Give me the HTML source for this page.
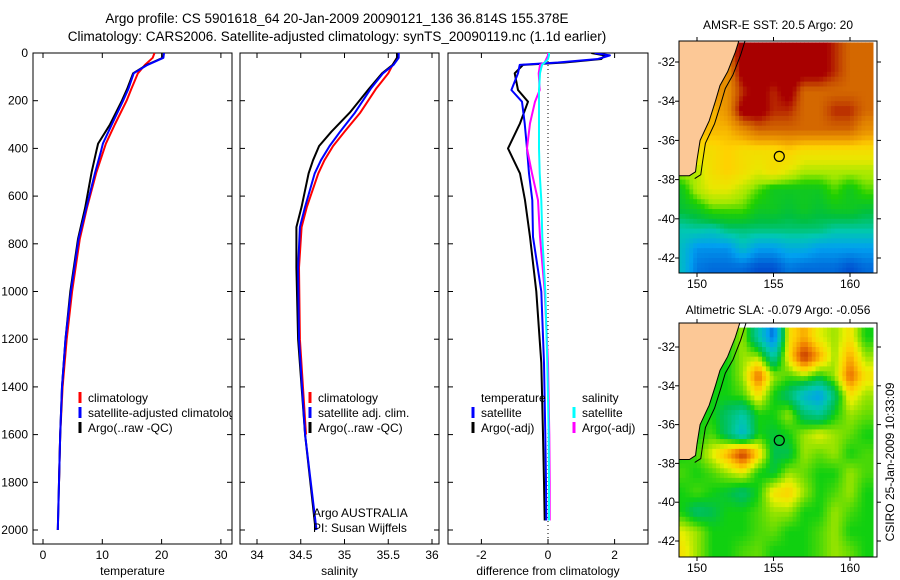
<!DOCTYPE html>
<html><head><meta charset="utf-8"><style>
html,body{margin:0;padding:0;background:#fff;}
svg{display:block;font-family:"Liberation Sans",sans-serif;}
</style></head><body>
<svg id="fig" width="900" height="580" viewBox="0 0 900 580" xmlns="http://www.w3.org/2000/svg">
<text x="337" y="23" font-size="13.5" text-anchor="middle">Argo profile: CS 5901618_64 20-Jan-2009 20090121_136 36.814S 155.378E</text>
<text x="337" y="41" font-size="13.5" text-anchor="middle">Climatology: CARS2006. Satellite-adjusted climatology: synTS_20090119.nc (1.1d earlier)</text>
<text x="778" y="29" font-size="12" text-anchor="middle">AMSR-E SST: 20.5 Argo: 20</text>
<text x="778" y="314" font-size="12" text-anchor="middle">Altimetric SLA: -0.079 Argo: -0.056</text>
<text transform="translate(894,462) rotate(-90)" font-size="12" text-anchor="middle">CSIRO 25-Jan-2009 10:33:09</text>
<g id="g"></g>
</svg>
<script>
// ---- depth / profile data ----
const tempDepth = [0,20,50,85,150,200,300,380,410,500,650,780,1000,1200,1400,1600,1800,2000];
const tempArgo  = [20.3,20.2,17.5,15.2,14.2,13.3,11.3,9.3,9.0,8.2,7.1,5.9,4.6,3.8,3.2,2.9,2.7,2.5];
const tempSat   = [20.4,20.3,17.6,15.3,14.4,13.5,11.6,10.1,9.8,8.8,7.3,6.0,4.7,3.8,3.2,2.9,2.7,2.5];
const tempClim  = [18.8,18.5,17.2,16.0,14.9,14.1,12.1,10.6,10.2,9.0,7.4,6.2,4.9,4.0,3.3,2.9,2.7];
const salDepth  = [0,20,50,85,150,250,330,390,450,505,645,730,900,1200,1600,2000];
const salArgo   = [35.6,35.6,35.55,35.43,35.28,35.06,34.85,34.71,34.64,34.59,34.51,34.45,34.45,34.47,34.55,34.67];
const salSat    = [35.62,35.62,35.56,35.44,35.3,35.12,34.95,34.83,34.73,34.66,34.55,34.49,34.47,34.48,34.55,34.68];
const salClim   = [35.6,35.6,35.55,35.5,35.36,35.18,35.0,34.87,34.77,34.70,34.57,34.51,34.48,34.49,34.56];
const diffDepth = [0,10,25,40,50,85,155,204,295,400,505,617,771,1000,1300,1600,1800,1960];
const tempArgoDiff = [1.3,1.7,1.6,0.5,-0.75,-1.0,-0.9,-0.6,-0.84,-1.2,-0.84,-0.69,-0.54,-0.35,-0.2,-0.15,-0.12,-0.1];
const tempSatDiff  = [1.4,1.86,1.5,0.3,-0.85,-0.9,-1.1,-0.78,-0.7,-0.63,-0.57,-0.47,-0.45,-0.2,-0.12,-0.08,-0.06,-0.05];
const salSatDiff   = [0.03,0.03,0.0,-0.1,-0.18,-0.24,-0.27,-0.27,-0.27,-0.27,-0.25,-0.2,-0.17,-0.08,-0.02,0.02,0.03,0.03];
const salArgoDiff  = [0.0,0.0,-0.05,-0.1,-0.24,-0.28,-0.25,-0.39,-0.54,-0.63,-0.48,-0.3,-0.24,-0.1,0.0,0.04,0.05,0.05];
const depthTicks = [0,200,400,600,800,1000,1200,1400,1600,1800,2000];
const tempTicks = [0,10,20,30];
const salTicks = [34,34.5,35,35.5,36];
const diffTicks = [-2,0,2];
// ---- map data ----
const mapLons = [149,150,151,152,153,154,155,156,157,158,159,160,161];
const mapLats = [-31,-32,-33,-34,-35,-36,-37,-38,-39,-40,-41,-42];
const sstGrid = [
[24,24,24,24,26,26,26,26,26,26,25,24,24],
[24,24,24,23,26,26,26,26,26,26,25,24,24],
[23,23,23,23,25,26,25,26,24,24,24,24,24],
[23,23,22,23,26,26,25,25,24,24,25,25,24],
[22,22,22,22,23,24,24,24,24,24,24,24,23],
[21,21,21,21.5,21,21,21,21.5,21,21,21,21,21],
[20,20,21,21.5,21,20.5,21,20.5,20,20,20,20,20],
[19,20,20.5,20.5,20,19.5,19,19,19,19,19.5,19,19.5],
[18.8,19,19.5,19.5,19.5,19,19,18.8,19,18.8,19,19,18.8],
[18.2,18.3,18.2,18.5,18.5,18.5,18.5,18.5,18.5,18.5,18.3,18.3,18.3],
[18,17.5,17.5,17.5,18,17.6,17.6,17.8,17.8,17.6,17.6,17.6,17.6],
[18,17.3,17.2,17.2,17.2,17,17,17.3,17.2,17.2,17.2,17,17.2]];
const slaGrid = [
[0,0,0,0,0.05,-0.1,-0.25,0.1,0.15,0.08,0.05,0.1,0.0],
[0,0,0,0,0.05,0.05,-0.1,0.1,0.25,0.15,0.05,0.15,0.05],
[0,0,0,0,0.05,0.2,0.05,0.02,0.05,0.0,0.05,0.2,0.1],
[0,0,0,0,0.02,0.1,0.0,-0.05,-0.15,-0.2,-0.05,0.1,0.05],
[0,0,0,-0.05,-0.1,0.0,0.0,0.05,-0.05,-0.08,0.0,0.05,0.03],
[0,0,0.02,-0.05,-0.15,0.0,-0.02,0.0,0.05,0.08,0.05,0.03,0.0],
[0,0.02,0.08,0.15,0.25,0.12,-0.03,-0.03,0.05,0.03,0.05,0.0,0.02],
[0.02,0.0,0.02,0.05,0.08,0.0,-0.02,0.05,0.03,0.0,0.0,0.05,0.02],
[0,0.02,0.0,-0.02,-0.05,0.0,0.1,0.12,0.05,0.0,0.02,0.05,0.0],
[0,-0.05,-0.03,0.0,0.0,0.02,0.05,0.05,0.0,0.0,0.05,0.02,0.0],
[0.08,0.05,0.0,0.0,0.0,0.02,0.03,0.0,0.0,0.02,0.05,0.0,0.0],
[0.1,0.05,0.0,0.0,0.02,0.03,0.0,0.0,0.0,0.02,0.05,0.03,0.0]];
const coastLon = [148.5,152.9,152.5,152.0,151.5,151.2,150.8,150.2,150.0,149.9,149.5,148.5];
const coastLat = [-30.5,-30.5,-31.5,-32.5,-33.2,-34,-35,-36,-37,-37.6,-37.8,-37.8];
const argoLon = 155.378, argoLat = -36.814;
const lonTicks = [150,155,160];
const latTicks = [-32,-34,-36,-38,-40,-42];

const NS="http://www.w3.org/2000/svg";
const G=document.getElementById('g');
function mk(tag,attrs,parent){const e=document.createElementNS(NS,tag);for(const k in attrs)e.setAttribute(k,attrs[k]);(parent||G).appendChild(e);return e;}
function txt(x,y,s,anchor,size,parent){const t=mk('text',{x:x,y:y,'font-size':size||12,'text-anchor':anchor||'start'},parent);t.textContent=s;return t;}

const yTop=53, yBot=544, dpx=0.2385;
const yD=d=>yTop+d*dpx;
const panels=[
 {x0:33,x1:232,sx:v=>43+v*5.93,ticks:tempTicks,label:'temperature',name:'temperature-panel'},
 {x0:240,x1:439,sx:v=>257+(v-34)*87.5,ticks:salTicks,label:'salinity',name:'salinity-panel'},
 {x0:448,x1:648,sx:v=>548+v*33.3,ticks:diffTicks,label:'difference from climatology',name:'difference-panel'}];
panels.forEach((p,i)=>{
 const g=mk('g',{});
 
 
 const clipId='clip'+i;
 const cp=mk('clipPath',{id:clipId},g);mk('rect',{x:p.x0,y:yTop,width:p.x1-p.x0,height:yBot-yTop},cp);
 const fr=mk('rect',{x:p.x0,y:yTop,width:p.x1-p.x0,height:yBot-yTop,fill:'none',stroke:'#000','stroke-width':1},g);
 
 
 depthTicks.forEach(d=>{const y=yD(d);
  mk('line',{x1:p.x0,x2:p.x0+5,y1:y,y2:y,stroke:'#000'},g);
  mk('line',{x1:p.x1-5,x2:p.x1,y1:y,y2:y,stroke:'#000'},g);
  if(i===0){const t=txt(28,y+4,String(d),'end',12,g);
   
   }
 });
 p.ticks.forEach(v=>{const x=p.sx(v);
  mk('line',{x1:x,x2:x,y1:yTop,y2:yTop+5,stroke:'#000'},g);
  mk('line',{x1:x,x2:x,y1:yBot-5,y2:yBot,stroke:'#000'},g);
  const t=txt(x,559,String(v),'middle',12,g);
  
  
 });
 const xl=txt((p.x0+p.x1)/2,575,p.label,'middle',12,g);
 
 
 p.g=mk('g',{'clip-path':'url(#'+clipId+')'},g);
});
function line(panel,vals,depths,color,name,w){
 const pts=vals.map((v,k)=>panel.sx(v).toFixed(1)+','+yD(depths[k]).toFixed(1)).join(' ');
 const l=mk('polyline',{points:pts,fill:'none',stroke:color,'stroke-width':w||2,'stroke-linejoin':'round'},panel.g);
 
 
}
line(panels[0],tempClim,tempDepth,'#f00','temperature-climatology-line');
line(panels[0],tempArgo,tempDepth,'#000','temperature-argo-line');
line(panels[0],tempSat,tempDepth,'#00f','temperature-satellite-line');
line(panels[1],salClim,salDepth,'#f00','salinity-climatology-line');
line(panels[1],salArgo,salDepth,'#000','salinity-argo-line');
line(panels[1],salSat,salDepth,'#00f','salinity-satellite-line');
const zl=mk('line',{x1:panels[2].sx(0),x2:panels[2].sx(0),y1:yTop,y2:yBot,stroke:'#000','stroke-dasharray':'1,3'},panels[2].g);


line(panels[2],tempArgoDiff,diffDepth,'#000','temperature-argo-diff-line');
line(panels[2],tempSatDiff,diffDepth,'#00f','temperature-satellite-diff-line');
line(panels[2],salArgoDiff,diffDepth,'#f0f','salinity-argo-diff-line');
line(panels[2],salSatDiff,diffDepth,'#0ff','salinity-satellite-diff-line');

// legends
function legend(g,x,y,color,label){
 if(color){const m=mk('line',{x1:x,x2:x,y1:y-10,y2:y+1,stroke:color,'stroke-width':3},g);
  
  }
 const t=txt(x+8,y,label,'start',12,g);
 
 
}
legend(panels[0].g,80,402,'#f00','climatology');
legend(panels[0].g,80,417,'#00f','satellite-adjusted climatology');
legend(panels[0].g,80,432,'#000','Argo(..raw -QC)');
legend(panels[1].g,310,402,'#f00','climatology');
legend(panels[1].g,310,417,'#00f','satellite adj. clim.');
legend(panels[1].g,310,432,'#000','Argo(..raw -QC)');
legend(panels[1].g,305,517,null,'Argo AUSTRALIA');
legend(panels[1].g,305,532,null,'PI: Susan Wijffels');
legend(panels[2].g,473,402,null,'temperature');
legend(panels[2].g,473,417,'#00f','satellite');
legend(panels[2].g,473,432,'#000','Argo(-adj)');
legend(panels[2].g,574,402,null,'salinity');
legend(panels[2].g,574,417,'#0ff','satellite');
legend(panels[2].g,574,432,'#f0f','Argo(-adj)');

// colormaps
function hex(c){return [parseInt(c.slice(1,3),16),parseInt(c.slice(3,5),16),parseInt(c.slice(5,7),16)];}
function cmap(stops,v){
 if(v<=stops[0][0])return stops[0][1];
 for(let i=1;i<stops.length;i++){if(v<=stops[i][0]){const a=hex(stops[i-1][1]),b=hex(stops[i][1]);const f=(v-stops[i-1][0])/(stops[i][0]-stops[i-1][0]);
  return 'rgb('+a.map((q,k)=>Math.round(q+(b[k]-q)*f)).join(',')+')';}}
 return stops[stops.length-1][1];}
const sstStops=[[17,'#0050d0'],[17.6,'#00a0f0'],[18.2,'#00c8b0'],[18.7,'#00c040'],[19.3,'#20d000'],[19.8,'#a0e800'],[20.5,'#e8e800'],[21.5,'#ffd000'],[22.5,'#f0a000'],[23.5,'#e08000'],[24.5,'#c85000'],[25.5,'#a80000']];
const slaStops=[[-0.3,'#0030c0'],[-0.2,'#00a0f0'],[-0.1,'#00c8a8'],[-0.03,'#00c050'],[0,'#10d010'],[0.04,'#80e000'],[0.08,'#e8f000'],[0.12,'#ffd000'],[0.18,'#f08000'],[0.25,'#c03000'],[0.3,'#a00000']];

// bilinear sample of grid at fractional (row, col) center-index coordinates
function sample(grid,fr,fc){
 const R=grid.length-1,C=grid[0].length-1;
 fr=Math.max(0,Math.min(R,fr));fc=Math.max(0,Math.min(C,fc));
 const r0=Math.floor(fr),c0=Math.floor(fc),r1=Math.min(R,r0+1),c1=Math.min(C,c0+1);
 const a=fr-r0,b=fc-c0;
 return (grid[r0][c0]*(1-b)+grid[r0][c1]*b)*(1-a)+(grid[r1][c0]*(1-b)+grid[r1][c1]*b)*a;
}

function drawMap(name,y0,y1,latA,pxA,latB,pxB,grid,stops,yLab){
 const x0=679,x1=877;
 const sx=lon=>697+(lon-150)*15.3;
 const sy=lat=>pxA+(lat-latA)*(pxB-pxA)/(latB-latA);
 const g=mk('g',{});
 
 
 const cid=name+'-clip';
 const cp=mk('clipPath',{id:cid},g);mk('rect',{x:x0,y:y0,width:x1-x0,height:y1-y0},cp);
 const inner=mk('g',{'clip-path':'url(#'+cid+')'},g);
 const step=0.25, n=grid.length/step, m=grid[0].length/step;
 for(let i=0;i<n;i++){for(let j=0;j<m;j++){
  const lonA=mapLons[0]-0.5+j*step, latT=mapLats[0]-i*step;
  const lonC=lonA+step/2, latC=latT-step/2;
  const fc=lonC-mapLons[0], fr=(mapLats[0]-0.5)-latC;
  const v=sample(grid,fr,fc);
  const xa=sx(lonA),xb=sx(lonA+step),ya=sy(latT),yb=sy(latT-step);
  const cell=mk('rect',{x:xa.toFixed(1),y:ya.toFixed(1),width:(xb-xa+0.6).toFixed(1),height:(yb-ya+0.6).toFixed(1),fill:cmap(stops,v)},inner);
  
  
 }}
 const land=mk('polygon',{points:coastLon.map((l,k)=>sx(l).toFixed(1)+','+sy(coastLat[k]).toFixed(1)).join(' '),fill:'#fcc896',stroke:'#000','stroke-width':1},inner);
 
 
 const shelf=mk('polyline',{points:coastLon.slice(1,11).map((l,k)=>sx(l+0.35).toFixed(1)+','+sy(coastLat[k+1]-0.15).toFixed(1)).join(' '),fill:'none',stroke:'#000','stroke-width':1},inner);
 
 
 const c=mk('circle',{cx:sx(argoLon),cy:sy(argoLat),r:5,fill:'none',stroke:'#000','stroke-width':1.2},inner);
 
 
 mk('rect',{x:x0,y:y0,width:x1-x0,height:y1-y0,fill:'none',stroke:'#000'},g);
 lonTicks.forEach(l=>{const x=sx(l);mk('line',{x1:x,x2:x,y1:y1,y2:y1+4,stroke:'#000'},g);mk('line',{x1:x,x2:x,y1:y0-4,y2:y0,stroke:'#000'},g);
  const t=txt(x,yLab,String(l),'middle',12,g);});
 latTicks.forEach(l=>{const y=sy(l);mk('line',{x1:x0-4,x2:x0,y1:y,y2:y,stroke:'#000'},g);mk('line',{x1:x1,x2:x1+4,y1:y,y2:y,stroke:'#000'},g);
  const t=txt(x0-4,y+4,String(l),'end',12,g);});
}
drawMap('sst-map',41,273,-32,62,-42,258,sstGrid,sstStops,288);
drawMap('sla-map',323,557,-32,347,-42,541,slaGrid,slaStops,572);
</script>
</body></html>
